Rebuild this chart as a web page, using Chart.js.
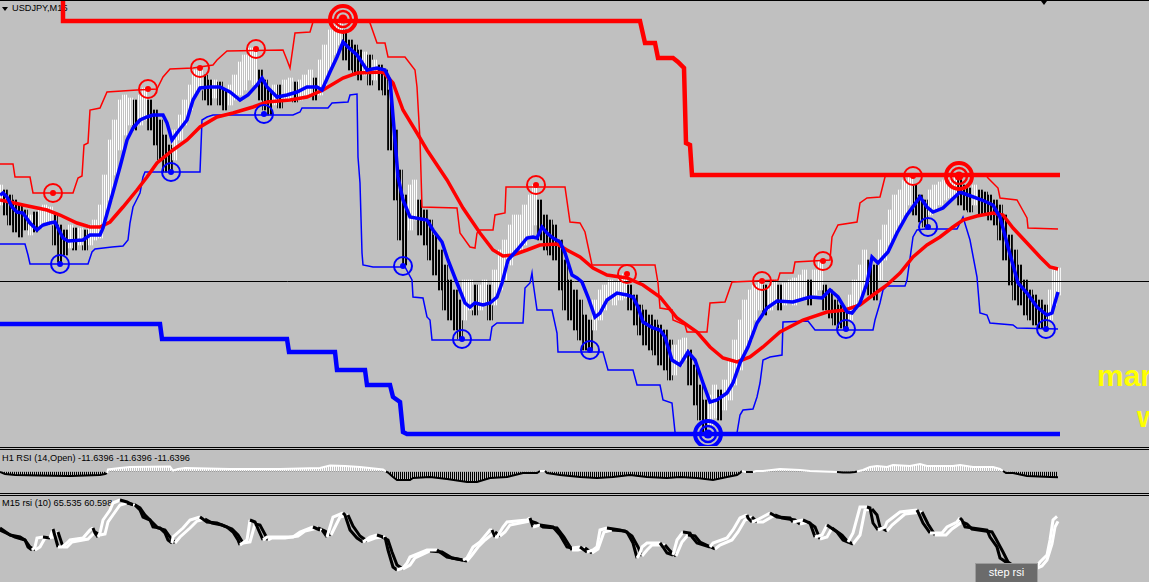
<!DOCTYPE html>
<html>
<head>
<meta charset="utf-8">
<script src="https://cdn.jsdelivr.net/npm/chart.js@4.4.0/dist/chart.umd.min.js"></script>
<style>
  body { margin:0; background:#c0c0c0; width:1149px; height:582px; overflow:hidden; position:relative; font-family:"Liberation Sans", Arial, sans-serif; }
  canvas { position:absolute; left:0; z-index:2; }
  .lbl { position:absolute; font-size:9.2px; line-height:1; color:#000; white-space:nowrap; z-index:1; }
  .sep { position:absolute; left:0; width:1149px; height:0; border-top:1px solid #000; z-index:3; }
  .big { position:absolute; font-size:30px; font-weight:bold; line-height:1; color:#ffff00; white-space:nowrap; z-index:1; }
  .tri { position:absolute; width:0; height:0; border-left:3.5px solid transparent; border-right:3.5px solid transparent; border-top:4px solid #000; z-index:3; }
  #btn { position:absolute; left:975px; top:563px; width:61px; height:18px; background:#6b6b6b; border:1px solid #9c9c9c; border-bottom:none;
         color:#fff; font-size:11px; line-height:17px; text-align:center; z-index:4; }
</style>
</head>
<body>
<div class="sep" style="top:0"></div>
<div class="tri" style="left:2px;top:7px"></div>
<div class="tri" style="left:1041px;top:1px"></div>
<div class="lbl" style="left:12px;top:4px">USDJPY,M15</div>
<div class="big" style="left:1097px;top:361px">mar</div>
<div class="big" style="left:1137px;top:402px">w</div>

<div class="sep" style="top:447px"></div>
<div class="sep" style="top:449px"></div>
<div class="lbl" style="left:2px;top:454px">H1 RSI (14,Open) -11.6396 -11.6396 -11.6396</div>
<div class="sep" style="top:493px"></div>
<div class="sep" style="top:495px"></div>
<div class="lbl" style="left:2px;top:499px">M15 rsi (10) 65.535 60.598</div>
<div id="btn">step rsi</div>

<canvas id="mainChart" width="1149" height="446" style="top:0"></canvas>
<canvas id="h1Chart" width="1149" height="43" style="top:450px"></canvas>
<canvas id="m15Chart" width="1149" height="86" style="top:496px"></canvas>

<script>
// ---- price panel (USDJPY M15), x = bar number, y = price ----
const bidPrice = 108.185;

const thickRedStep = [[63,111.05],[63,110.79],[640,110.79],[645,110.57],[655,110.57],[658,110.42],[673,110.42],[678,110.38],[684,110.32],[686,109.57],[690,109.55],[692,109.25],[1060,109.25]];
const thickBlueStep = [[0,107.76],[160,107.76],[162,107.61],[287,107.61],[289,107.48],[335,107.48],[337,107.30],[365,107.30],[367,107.15],[390,107.15],[393,107.03],[400,106.98],[403,106.68],[407,106.66],[1060,106.66]];

const thinRed = [[0,109.36],[13,109.36],[15,109.23],[30,109.23],[33,109.07],[73,109.07],[78,109.22],[82,109.24],[84,109.55],[88,109.57],[90,109.90],[100,109.92],[107,110.08],[137,110.10],[157,110.11],[163,110.23],[170,110.31],[193,110.32],[213,110.35],[217,110.40],[227,110.49],[283,110.50],[287,110.40],[290,110.32],[295,110.67],[310,110.68],[313,110.78],[320,110.79],[368,110.79],[370,110.77],[377,110.57],[385,110.57],[388,110.43],[405,110.43],[415,110.30],[417,110.13],[420,109.60],[422,108.93],[457,108.92],[460,108.67],[470,108.53],[475,108.52],[477,108.67],[480,108.70],[493,108.70],[495,108.85],[505,108.87],[506,109.13],[565,109.13],[570,108.78],[580,108.77],[585,108.68],[592,108.35],[655,108.35],[658,108.17],[660,107.92],[672,107.90],[673,107.80],[685,107.75],[687,107.68],[707,107.68],[710,107.97],[725,107.98],[732,108.18],[778,108.20],[780,108.27],[793,108.27],[795,108.38],[830,108.40],[832,108.63],[838,108.75],[857,108.78],[860,108.97],[867,109.02],[880,109.03],[885,109.23],[888,109.25],[986,109.25],[988,109.22],[998,109.12],[1000,109.02],[1017,109.00],[1027,108.82],[1028,108.72],[1058,108.71]];

const thinBlue = [[0,108.56],[25,108.56],[28,108.45],[30,108.36],[88,108.36],[92,108.48],[95,108.51],[112,108.53],[123,108.54],[128,108.60],[130,108.77],[133,108.93],[135,108.97],[140,109.07],[143,109.23],[145,109.28],[200,109.28],[202,109.80],[207,109.83],[213,109.85],[293,109.85],[300,109.88],[302,109.92],[328,109.92],[332,109.97],[348,109.98],[350,110.05],[357,110.06],[358,109.43],[360,109.17],[362,108.47],[363,108.35],[373,108.33],[405,108.33],[412,108.20],[413,108.03],[423,108.02],[427,107.83],[430,107.80],[432,107.60],[490,107.60],[492,107.73],[497,107.77],[523,107.77],[525,108.12],[530,108.17],[532,108.27],[533,108.18],[537,107.90],[552,107.90],[557,107.67],[558,107.48],[603,107.48],[608,107.30],[633,107.30],[637,107.15],[660,107.15],[663,107.00],[672,106.97],[675,106.68],[678,106.66],[735,106.66],[737,106.67],[740,106.85],[743,106.90],[753,106.91],[757,107.03],[760,107.17],[763,107.40],[770,107.43],[782,107.45],[783,107.78],[808,107.79],[815,107.70],[873,107.70],[875,107.80],[880,107.97],[883,108.10],[887,108.14],[905,108.14],[907,108.20],[913,108.63],[917,108.70],[925,108.71],[957,108.71],[963,108.83],[970,108.60],[977,108.23],[980,107.87],[987,107.85],[990,107.77],[1013,107.75],[1017,107.72],[1058,107.71]];

const fastMA = [[0,109.05],[3,109.07],[7,109.03],[12,108.93],[17,108.88],[23,108.87],[30,108.77],[37,108.70],[43,108.75],[50,108.77],[55,108.78],[58,108.72],[63,108.62],[68,108.59],[83,108.60],[90,108.65],[100,108.65],[103,108.72],[110,108.97],[115,109.15],[120,109.33],[127,109.60],[133,109.72],[140,109.80],[147,109.83],[153,109.85],[163,109.85],[167,109.77],[172,109.60],[177,109.67],[187,109.80],[193,110.00],[200,110.12],[210,110.13],[220,110.13],[230,110.08],[240,110.00],[248,110.05],[257,110.15],[262,110.22],[267,110.13],[277,110.03],[287,110.05],[297,110.08],[307,110.13],[317,110.13],[322,110.10],[330,110.28],[337,110.43],[343,110.58],[348,110.53],[357,110.45],[367,110.30],[377,110.32],[385,110.30],[390,110.20],[395,109.60],[398,109.23],[403,109.00],[410,108.83],[427,108.80],[433,108.70],[442,108.58],[448,108.40],[457,108.17],[465,107.97],[470,107.93],[475,107.97],[483,107.95],[490,107.97],[497,108.03],[502,108.17],[508,108.40],[517,108.50],[527,108.62],[533,108.63],[537,108.62],[542,108.73],[547,108.67],[553,108.62],[560,108.58],[565,108.47],[572,108.25],[577,108.22],[582,108.18],[588,108.03],[595,107.83],[600,107.87],[607,108.00],[617,108.07],[627,108.05],[633,108.03],[638,107.93],[643,107.78],[653,107.72],[660,107.70],[665,107.63],[672,107.40],[680,107.35],[688,107.48],[695,107.40],[703,107.17],[710,106.98],[717,107.00],[727,107.07],[733,107.17],[740,107.37],[748,107.53],[757,107.77],[767,107.92],[777,107.99],[793,107.98],[810,108.03],[822,108.02],[830,108.10],[838,108.03],[847,107.88],[852,107.87],[860,107.97],[867,108.17],[872,108.43],[878,108.37],[888,108.48],[897,108.67],[907,108.85],[920,109.03],[927,108.93],[933,108.88],[943,108.92],[960,109.08],[968,109.05],[982,109.00],[993,108.95],[1000,108.83],[1008,108.53],[1018,108.17],[1027,108.07],[1037,107.93],[1047,107.85],[1052,107.87],[1058,108.08]];

const slowMA = [[0,109.00],[10,108.98],[23,108.95],[47,108.90],[60,108.85],[77,108.77],[90,108.73],[100,108.73],[110,108.78],[123,108.93],[137,109.10],[147,109.23],[157,109.37],[173,109.50],[187,109.60],[200,109.73],[217,109.83],[233,109.87],[253,109.93],[267,109.98],[290,110.00],[307,110.03],[323,110.10],[343,110.22],[357,110.27],[383,110.28],[393,110.17],[403,109.90],[417,109.67],[427,109.50],[447,109.20],[463,108.92],[480,108.67],[493,108.50],[503,108.44],[513,108.45],[527,108.50],[540,108.55],[557,108.56],[567,108.50],[580,108.43],[593,108.32],[607,108.25],[627,108.22],[643,108.15],[660,108.03],[677,107.82],[697,107.68],[710,107.53],[723,107.42],[737,107.38],[750,107.43],[763,107.53],[780,107.68],[803,107.80],[827,107.88],[845,107.90],[860,107.95],[873,108.05],[887,108.15],[900,108.27],[913,108.43],[927,108.55],[940,108.63],[953,108.73],[963,108.80],[977,108.84],[993,108.87],[1003,108.85],[1013,108.72],[1027,108.57],[1040,108.43],[1050,108.33],[1058,108.31]];

// [bar, low, high]
const upBars = [[0,108.95,109.15],[30,108.65,108.85],[40,108.72,108.92],[45,108.78,108.95],[50,108.75,108.93],[70,108.52,108.75],[80,108.55,108.72],[90,108.55,108.75],[95,108.60,108.80],[100,108.62,108.95],[105,108.75,109.25],[110,109.00,109.60],[115,109.25,109.80],[120,109.50,110.00],[125,109.65,110.05],[130,109.75,110.02],[140,109.75,110.05],[145,109.80,110.12],[175,109.40,109.70],[180,109.60,109.85],[185,109.75,110.00],[190,109.90,110.15],[195,110.05,110.30],[200,110.10,110.32],[215,110.02,110.20],[230,109.95,110.15],[235,110.00,110.25],[240,110.05,110.38],[245,110.10,110.45],[250,110.20,110.52],[255,110.15,110.50],[275,109.95,110.15],[285,110.00,110.20],[290,110.00,110.22],[300,110.00,110.20],[305,110.05,110.25],[310,110.05,110.30],[320,110.05,110.40],[325,110.15,110.55],[330,110.30,110.70],[335,110.45,110.75],[340,110.55,110.80],[365,110.25,110.48],[375,110.20,110.40],[410,108.70,109.15],[415,108.80,109.20],[465,107.80,108.20],[470,107.90,108.20],[480,107.90,108.15],[485,107.95,108.20],[495,107.95,108.30],[500,108.10,108.50],[505,108.20,108.60],[510,108.35,108.75],[515,108.45,108.85],[520,108.50,108.85],[525,108.55,108.95],[530,108.65,109.05],[535,108.75,109.15],[595,107.70,108.00],[600,107.80,108.10],[605,107.90,108.15],[610,108.00,108.20],[615,107.95,108.18],[620,108.00,108.22],[625,108.02,108.26],[675,107.25,107.55],[680,107.35,107.60],[685,107.40,107.62],[710,106.75,107.05],[715,106.82,107.15],[725,106.90,107.20],[730,107.00,107.40],[735,107.15,107.60],[740,107.30,107.80],[745,107.50,108.00],[750,107.60,108.10],[755,107.80,108.15],[760,107.90,108.19],[770,107.90,108.15],[775,107.95,108.20],[785,107.95,108.17],[790,108.00,108.20],[795,107.95,108.22],[800,108.00,108.25],[805,108.00,108.30],[815,108.05,108.30],[820,108.10,108.39],[850,107.80,108.05],[855,107.90,108.20],[860,108.00,108.35],[865,108.10,108.50],[880,108.20,108.60],[885,108.40,108.75],[890,108.55,108.90],[895,108.65,109.05],[900,108.75,109.10],[905,108.85,109.20],[910,108.95,109.24],[930,108.85,109.10],[935,108.90,109.15],[940,108.95,109.18],[945,109.00,109.20],[950,109.02,109.22],[955,109.05,109.24],[975,108.95,109.15],[1050,107.80,108.10],[1055,107.95,108.30],[1058,108.05,108.32]];
const downBars = [[5,108.85,109.10],[10,108.75,109.05],[15,108.68,109.00],[20,108.63,108.95],[25,108.70,108.90],[35,108.68,108.88],[55,108.55,108.85],[60,108.38,108.75],[65,108.45,108.70],[75,108.50,108.72],[85,108.50,108.70],[135,109.70,110.00],[150,109.70,110.00],[155,109.55,109.90],[160,109.40,109.80],[165,109.28,109.65],[170,109.28,109.55],[205,110.00,110.25],[210,109.95,110.20],[220,109.95,110.18],[225,109.90,110.10],[260,110.00,110.30],[265,109.90,110.20],[270,109.85,110.10],[280,109.92,110.15],[295,109.98,110.18],[315,110.00,110.22],[345,110.40,110.70],[350,110.30,110.60],[355,110.25,110.55],[360,110.20,110.50],[370,110.15,110.45],[380,110.10,110.35],[385,110.05,110.30],[390,109.50,110.10],[395,109.00,109.70],[400,108.60,109.30],[405,108.35,109.05],[420,108.65,109.00],[425,108.55,108.90],[430,108.40,108.80],[435,108.25,108.65],[440,108.10,108.50],[445,107.90,108.35],[450,107.80,108.20],[455,107.70,108.10],[460,107.61,108.00],[475,107.85,108.15],[490,107.80,108.15],[540,108.60,109.00],[545,108.50,108.85],[550,108.45,108.80],[555,108.40,108.75],[560,108.10,108.60],[565,107.90,108.40],[570,107.80,108.20],[575,107.70,108.10],[580,107.60,108.00],[585,107.50,107.85],[590,107.50,107.80],[630,107.90,108.15],[635,107.75,108.05],[640,107.65,107.95],[645,107.55,107.90],[650,107.50,107.85],[655,107.45,107.80],[660,107.35,107.75],[665,107.30,107.70],[670,107.20,107.60],[690,107.15,107.50],[695,106.95,107.35],[700,106.80,107.15],[705,106.66,107.00],[720,106.80,107.10],[765,107.85,108.15],[780,107.90,108.15],[810,107.95,108.20],[825,107.90,108.15],[830,107.82,108.10],[835,107.75,108.00],[840,107.72,107.95],[845,107.71,107.90],[870,108.05,108.40],[875,108.00,108.35],[915,108.85,109.15],[920,108.78,109.05],[925,108.73,109.00],[960,108.95,109.20],[965,108.90,109.15],[970,108.88,109.12],[980,108.85,109.10],[985,108.85,109.08],[990,108.80,109.05],[995,108.75,109.00],[1000,108.60,108.95],[1005,108.40,108.85],[1010,108.15,108.65],[1015,108.00,108.50],[1020,107.95,108.35],[1025,107.85,108.20],[1030,107.80,108.10],[1035,107.75,108.05],[1040,107.72,108.00],[1045,107.71,107.95]];

// swing markers
const redHighs = [[53,109.07],[148,110.11],[200,110.32],[256,110.51],[536,109.15],[627,108.26],[762,108.19],[823,108.39],[913,109.24]];
const redMajor = [[343,110.81],[959,109.24]];
const blueLows = [[60,108.36],[171,109.28],[264,109.86],[403,108.34],[462,107.61],[590,107.50],[846,107.71],[928,108.73],[1046,107.71]];
const blueMajor = [[708,106.66]];

// ---- H1 RSI (14, Open) minus 50 ----
const h1Rsi = [[0,-1],[5,-5],[15,-7],[40,-8],[70,-9],[100,-7],[105,-5],[107,-3],[108,4],[120,7],[130,9],[170,10],[173,2],[178,5],[185,7],[230,5],[280,5],[320,7],[330,12],[345,11],[360,9],[383,4],[386,0],[388,-2],[393,-11],[397,-17],[410,-17],[413,-13],[430,-11],[447,-15],[467,-21],[477,-21],[490,-13],[507,-11],[523,-3],[537,-3],[540,1],[545,1],[547,-3],[560,-7],[580,-11],[597,-13],[613,-11],[630,-7],[647,-11],[667,-13],[680,-11],[697,-13],[713,-17],[727,-11],[737,-7],[740,-3],[742,1],[746,-1],[753,-1],[756,1],[763,1],[780,5],[800,3],[810,1],[837,-1],[843,-2],[850,-2],[855,-1],[857,0],[863,3],[870,9],[877,11],[887,9],[893,13],[910,11],[920,15],[927,11],[953,11],[960,13],[973,9],[993,9],[1000,5],[1003,1],[1006,-3],[1013,-3],[1027,-9],[1050,-11],[1058,-11.6396]];

// ---- M15 step rsi (10) ----
const rsiMain = [[0,54],[10,47],[20,45],[25,42],[28,35],[32,32],[35,35],[37,44],[43,45],[50,44],[53,53],[58,35],[62,35],[67,39],[70,42],[83,44],[90,52],[93,54],[95,49],[98,45],[100,49],[103,62],[110,72],[113,79],[120,82],[127,80],[133,77],[135,77],[140,72],[143,65],[150,62],[153,55],[160,54],[165,49],[168,42],[172,39],[173,45],[183,54],[190,62],[200,65],[207,60],[217,59],[227,55],[233,50],[238,42],[240,37],[247,42],[250,62],[255,60],[263,42],[267,45],[280,45],[293,45],[300,50],[313,55],[320,52],[322,52],[327,45],[330,55],[333,65],[343,69],[345,67],[350,52],[357,44],[363,40],[370,45],[377,47],[383,45],[385,45],[388,32],[393,15],[397,12],[403,14],[407,19],[410,25],[427,32],[437,32],[447,25],[463,22],[467,24],[473,35],[480,40],[490,52],[492,52],[495,45],[497,45],[503,55],[507,60],[527,62],[530,64],[533,55],[540,57],[553,55],[560,47],[567,35],[572,34],[580,35],[587,30],[593,32],[597,35],[600,52],[607,54],[620,52],[627,50],[633,39],[637,24],[640,29],[642,35],[647,39],[660,39],[663,35],[667,29],[673,27],[677,42],[683,50],[690,49],[692,45],[697,39],[710,35],[713,39],[727,44],[733,52],[740,64],[747,67],[748,64],[752,60],[757,62],[770,69],[777,65],[790,64],[793,60],[803,62],[810,59],[815,45],[822,47],[827,57],[837,50],[843,42],[848,40],[853,49],[860,75],[867,75],[870,74],[873,59],[878,52],[885,55],[887,60],[900,70],[917,72],[918,70],[923,59],[930,49],[942,49],[947,55],[957,60],[960,64],[962,62],[965,55],[987,52],[990,45],[997,35],[1000,24],[1003,22],[1010,17],[1030,14],[1037,16],[1040,20],[1047,27],[1050,42],[1053,62],[1057,65.535]];
const rsiSignal = [[0,52],[15,45],[25,42],[30,35],[35,32],[40,35],[45,44],[53,45],[58,50],[63,35],[67,35],[72,40],[88,43],[95,50],[100,47],[105,48],[108,60],[115,70],[120,77],[127,79],[135,77],[140,74],[145,67],[152,60],[158,54],[165,52],[170,45],[175,39],[180,45],[190,54],[197,61],[205,63],[212,59],[222,57],[232,53],[238,47],[243,39],[250,40],[255,58],[260,57],[268,42],[272,44],[285,44],[298,46],[305,51],[318,54],[325,51],[331,47],[336,57],[340,65],[348,67],[353,56],[360,46],[367,41],[375,44],[382,45],[388,42],[392,30],[397,17],[403,13],[410,17],[415,24],[430,31],[442,30],[452,24],[467,21],[472,27],[478,35],[485,42],[495,50],[500,46],[505,50],[510,57],[530,61],[536,59],[543,55],[557,54],[564,45],[572,32],[578,32],[585,34],[592,29],[598,33],[604,50],[612,52],[625,51],[632,46],[638,35],[642,26],[647,32],[652,37],[665,37],[670,31],[676,26],[682,40],[688,47],[695,46],[700,40],[715,33],[720,37],[732,42],[738,50],[745,62],[752,65],[757,60],[763,60],[775,67],[782,64],[795,62],[800,58],[808,60],[815,55],[820,43],[827,45],[832,54],[842,47],[848,40],[853,38],[860,47],[865,72],[872,73],[877,67],[880,55],[887,51],[892,57],[905,68],[922,70],[928,58],[935,47],[946,47],[952,53],[962,60],[967,58],[972,53],[992,50],[996,43],[1003,30],[1008,20],[1015,15],[1035,13],[1042,16],[1047,22],[1052,38],[1055,55],[1058,60.598]];

const RED = '#ff0000', BLUE = '#0000ff';
const pts = a => a.map(p => ({ x: p[0], y: p[1] }));
const bars = a => a.map(p => ({ x: p[0], y: [p[1], p[2]] }));

// vertical stripes, like the dense 1px bars / histogram of the terminal
function hatch(color, period, filled) {
  const c = document.createElement('canvas');
  c.width = period; c.height = 4;
  const g = c.getContext('2d');
  g.fillStyle = color;
  g.fillRect(0, 0, filled, 4);
  return g.createPattern(c, 'repeat');
}

function line(data, color, width, order) {
  return { type: 'line', data: pts(data), borderColor: color, borderWidth: width, pointRadius: 0, tension: 0, fill: false, order: order };
}
function ring(data, color, radius, width, order) {
  return { type: 'line', data: pts(data), showLine: false, pointRadius: radius, pointBorderWidth: width,
           pointBorderColor: color, pointBackgroundColor: 'rgba(0,0,0,0)', order: order };
}
function dot(data, color, radius, order) {
  return { type: 'line', data: pts(data), showLine: false, pointRadius: radius, pointBorderWidth: 0,
           pointBackgroundColor: color, pointBorderColor: color, order: order };
}
function barSet(data, fillStyle) {
  return { type: 'bar', data: bars(data), backgroundColor: fillStyle, borderWidth: 0, barThickness: 5, grouped: false, order: 20 };
}

function baseOptions(ymin, ymax) {
  return {
    responsive: false, animation: false, events: [], devicePixelRatio: 1,
    layout: { padding: 0, autoPadding: false },
    plugins: { legend: { display: false }, tooltip: { enabled: false } },
    scales: {
      x: { type: 'linear', min: 0, max: 1149, display: false, offset: false },
      y: { type: 'linear', min: ymin, max: ymax, display: false }
    }
  };
}

// main price chart
new Chart(document.getElementById('mainChart').getContext('2d'), {
  type: 'line',
  data: {
    datasets: [
      barSet(upBars, hatch('#ffffff', 2, 1)),
      barSet(downBars, hatch('#000000', 3, 2)),
      line([[0, bidPrice], [1149, bidPrice]], '#000000', 1, 19),
      line(thinRed, RED, 1.5, 12),
      line(thinBlue, BLUE, 1.5, 12),
      line(slowMA, RED, 3.5, 9),
      line(fastMA, BLUE, 3.5, 8),
      line(thickRedStep, RED, 4.5, 7),
      line(thickBlueStep, BLUE, 4.5, 7),
      ring(redHighs, RED, 9, 2, 3),
      dot(redHighs, RED, 3, 2),
      ring(blueLows, BLUE, 9, 2, 3),
      dot(blueLows, BLUE, 3, 2),
      ring(redMajor, RED, 13, 4, 3),
      ring(redMajor, RED, 8, 2.5, 3),
      dot(redMajor, RED, 4.5, 2),
      ring(blueMajor, BLUE, 13, 4, 3),
      ring(blueMajor, BLUE, 8, 2.5, 3),
      dot(blueMajor, BLUE, 4.5, 2)
    ]
  },
  options: baseOptions(106.54, 111.00)
});

new Chart(document.getElementById('h1Chart').getContext('2d'), {
  type: 'line',
  data: {
    datasets: [{
      data: pts(h1Rsi), borderWidth: 2, pointRadius: 0, tension: 0,
      borderColor: '#000000',
      segment: { borderColor: c => (c.p0.parsed.y + c.p1.parsed.y) >= 0 ? '#ffffff' : '#000000' },
      fill: { target: { value: 0 }, above: hatch('#ffffff', 2, 1), below: hatch('#000000', 2, 1) }
    }]
  },
  options: baseOptions(-43, 43)
});

// M15 rsi: white when rising, black when falling
const stepColor = c => c.p1.parsed.y >= c.p0.parsed.y ? '#ffffff' : '#000000';
new Chart(document.getElementById('m15Chart').getContext('2d'), {
  type: 'line',
  data: {
    datasets: [
      { data: pts(rsiSignal), borderWidth: 3, pointRadius: 0, tension: 0, borderColor: '#000', segment: { borderColor: stepColor }, order: 2 },
      { data: pts(rsiMain), borderWidth: 3, pointRadius: 0, tension: 0, borderColor: '#000', segment: { borderColor: stepColor }, order: 1 }
    ]
  },
  options: baseOptions(0, 86)
});
</script>
</body>
</html>
